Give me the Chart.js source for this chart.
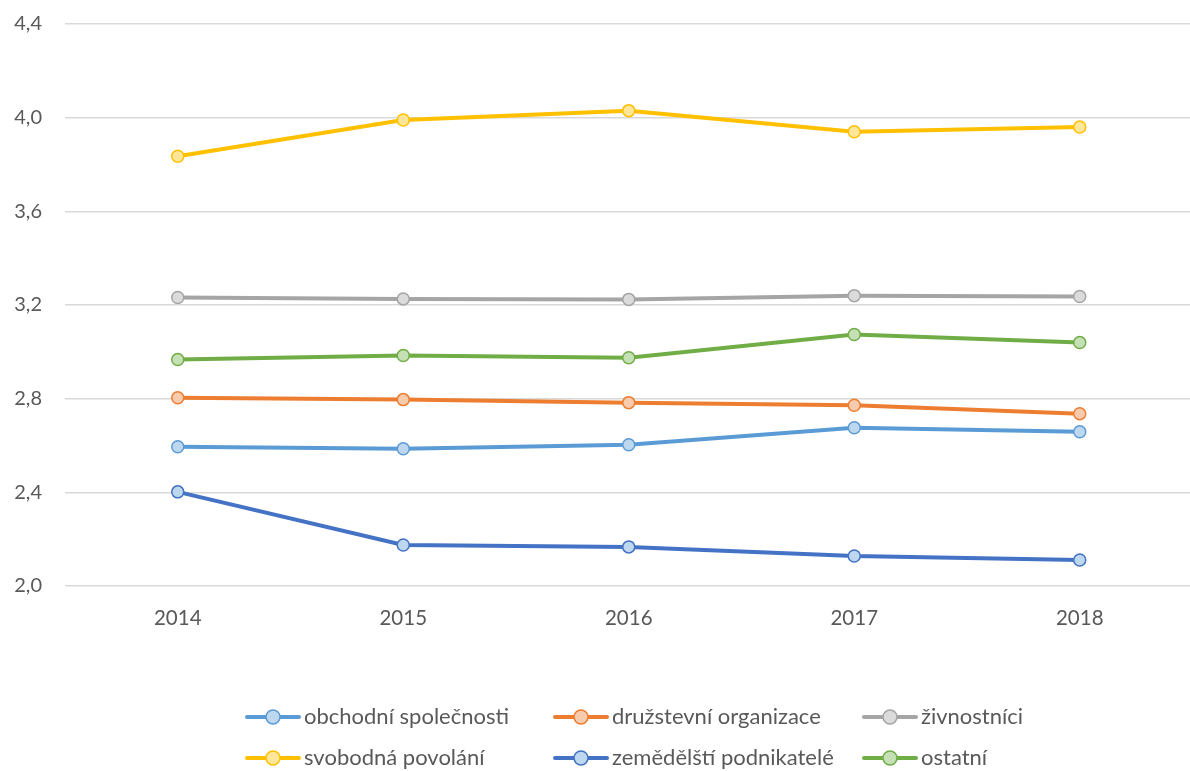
<!DOCTYPE html>
<html lang="cs">
<head>
<meta charset="UTF-8">
<script src="https://cdn.jsdelivr.net/npm/chart.js@4.4.0/dist/chart.umd.min.js"></script>
<title>Vývoj podle právní formy</title>
<style>
  body { margin: 0; background: #fff; overflow: hidden; }
  #wrap { width: 1190px; height: 771px; overflow: hidden; position: relative; }
</style>
</head>
<body>
<div id="wrap">
  <canvas id="myChart" width="1200" height="771"></canvas>
</div>
<script>
const years = ['2014', '2015', '2016', '2017', '2018'];

const obchodni   = [2.595, 2.586, 2.603, 2.676, 2.659];
const druzstevni = [2.804, 2.796, 2.783, 2.772, 2.736];
const zivnostnici = [3.232, 3.226, 3.224, 3.240, 3.236];
const svobodna   = [3.835, 3.990, 4.030, 3.940, 3.960];
const zemedelsti = [2.402, 2.175, 2.167, 2.128, 2.111];
const ostatni    = [2.967, 2.984, 2.975, 3.074, 3.040];

const seriesNames = ['obchodní společnosti', 'družstevní organizace', 'živnostníci',
                     'svobodná povolání', 'zemědělští podnikatelé', 'ostatní'];

const yMin = 2.0, yMax = 4.4, yStep = 0.4;

const FONT = 'Lato, "Open Sans", sans-serif';
const TEXT = '#595959';

function series(label, data, line, fill) {
    return {
        label: label,
        data: data,
        borderColor: line,
        backgroundColor: fill,
        borderWidth: 4,
        pointRadius: 6,
        pointHoverRadius: 6,
        pointBorderWidth: 1.5,
        pointBorderColor: line,
        pointBackgroundColor: fill,
        tension: 0
    };
}

// legend in 3 columns x 2 rows like the office chart
const legendGrid = {
    id: 'legendGrid',
    afterDraw(chart) {
        const ctx = chart.ctx;
        const cols = [245, 553, 862];
        const rows = [717, 758];
        ctx.save();
        chart.data.datasets.forEach((ds, i) => {
            const x = cols[i % 3], y = rows[Math.floor(i / 3)];
            ctx.strokeStyle = ds.borderColor;
            ctx.lineWidth = 4;
            ctx.lineCap = 'round';
            ctx.beginPath();
            ctx.moveTo(x + 2, y);
            ctx.lineTo(x + 54, y);
            ctx.stroke();
            ctx.beginPath();
            ctx.arc(x + 28, y, 7, 0, Math.PI * 2);
            ctx.fillStyle = ds.pointBackgroundColor;
            ctx.fill();
            ctx.lineWidth = 1.5;
            ctx.stroke();
            ctx.fillStyle = TEXT;
            ctx.font = '22px ' + FONT;
            ctx.textBaseline = 'middle';
            ctx.textAlign = 'left';
            ctx.fillText(ds.label, x + 59, y);
        });
        ctx.restore();
    }
};

const ctx = document.getElementById('myChart').getContext('2d');
const myChart = new Chart(ctx, {
    type: 'line',
    data: {
        labels: years,
        datasets: [
            series(seriesNames[0], obchodni,    '#5B9BD5', '#BDD7EE'),
            series(seriesNames[1], druzstevni,  '#ED7D31', '#F8CBAD'),
            series(seriesNames[2], zivnostnici, '#A5A5A5', '#DBDBDB'),
            series(seriesNames[3], svobodna,    '#FFC000', '#FFE699'),
            series(seriesNames[4], zemedelsti,  '#4472C4', '#BDD7EE'),
            series(seriesNames[5], ostatni,     '#70AD47', '#C5E0B4')
        ]
    },
    options: {
        responsive: false,
        animation: false,
        layout: { padding: { top: 24, right: 1, left: 0, bottom: 0 } },
        plugins: {
            legend: { display: false },
            tooltip: { enabled: false }
        },
        scales: {
            x: {
                offset: true,
                grid: { display: false, drawTicks: false },
                border: { display: false },
                ticks: {
                    color: TEXT,
                    font: { family: FONT, size: 20.5 },
                    padding: 20,
                    maxRotation: 0
                },
                afterFit(scale) {
                    scale.height = 185;
                    scale.paddingLeft = 0;
                    scale.paddingRight = 0;
                }
            },
            y: {
                min: yMin,
                max: yMax,
                grid: { color: '#D9D9D9', lineWidth: 1.5, drawTicks: false },
                border: { display: false },
                ticks: {
                    stepSize: yStep,
                    color: TEXT,
                    font: { family: FONT, size: 20 },
                    padding: 23,
                    callback: (v) => v.toFixed(1).replace('.', ',')
                },
                afterFit(scale) {
                    scale.width = 65;
                    scale.paddingTop = 0;
                    scale.paddingBottom = 0;
                }
            }
        }
    },
    plugins: [legendGrid]
});
</script>
</body>
</html>
